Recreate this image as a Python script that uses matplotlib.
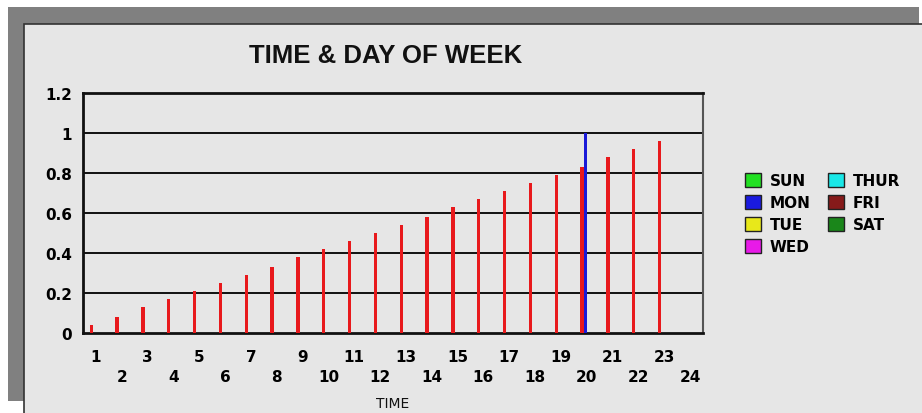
from matplotlib import pyplot as plt
from matplotlib.patches import Rectangle, Patch
import numpy as np

# chart data
hours = list(range(1, 25))
red_hours = list(range(1, 24))
red_values = [0.04, 0.08, 0.13, 0.17, 0.21, 0.25, 0.29, 0.33, 0.38, 0.42, 0.46, 0.50,
              0.54, 0.58, 0.63, 0.67, 0.71, 0.75, 0.79, 0.83, 0.88, 0.92, 0.96]
blue_hours = [20]
blue_values = [1.0]
y_ticks = [0, 0.2, 0.4, 0.6, 0.8, 1, 1.2]
y_labels = ["0", "0.2", "0.4", "0.6", "0.8", "1", "1.2"]
days = ["SUN", "MON", "TUE", "WED", "THUR", "FRI", "SAT"]
day_colors = ["#22e022", "#1a1ae0", "#e8e81a", "#e81ae8", "#1ae8e8", "#861a1a", "#1a861a"]

W, H = 922, 414
fig = plt.figure(figsize=(W / 100, H / 100), dpi=100)
fig.patch.set_facecolor("white")

def px(x, y):
    # pixel from top-left -> figure fraction
    return x / W, 1 - y / H

# shadow frame and light panel
x0, y0 = px(8, 402)
fig.patches.append(Rectangle((x0, y0), (919 - 8) / W, (402 - 8) / H,
                             transform=fig.transFigure, facecolor="#808080", edgecolor="none", zorder=0))
x0, y0 = px(24, 430)
fig.patches.append(Rectangle((x0, y0), (W - 24) / W + 0.05, (430 - 25) / H,
                             transform=fig.transFigure, facecolor="#e6e6e6", edgecolor="#333333",
                             linewidth=1.2, zorder=1))

ax = fig.add_axes([83 / W, 1 - 334 / H, (703 - 83) / W, (334 - 94) / H])
ax.set_facecolor("#e6e6e6")
ax.set_zorder(2)

ax.bar(np.array(red_hours) - 0.18, red_values, width=0.13, color="#e8191c", zorder=3)
ax.bar(np.array(blue_hours) - 0.06, blue_values, width=0.13, color="#1a1ad8", zorder=4)

ax.set_xlim(0.5, 24.5)
ax.set_ylim(0, 1.2)

ax.set_yticks(y_ticks)
ax.set_yticklabels(y_labels, fontsize=11, fontweight="bold", family="DejaVu Sans")
ax.tick_params(axis="y", length=0, pad=8)
for y in y_ticks[1:-1]:
    ax.axhline(y, color="#111111", linewidth=1.4, zorder=2)

odd = [h for h in hours if h % 2 == 1]
even = [h for h in hours if h % 2 == 0]
ax.set_xticks(odd)
ax.set_xticklabels([str(h) for h in odd], fontsize=11, fontweight="bold", family="DejaVu Sans")
ax.set_xticks(even, minor=True)
ax.set_xticklabels([str(h) for h in even], minor=True, fontsize=11, fontweight="bold",
                   family="DejaVu Sans")
ax.tick_params(axis="x", which="major", length=0, pad=11.5)
ax.tick_params(axis="x", which="minor", length=0, pad=26)

for side in ["left", "top", "bottom"]:
    ax.spines[side].set_color("#111111")
    ax.spines[side].set_linewidth(2)
ax.spines["right"].set_color("#555555")
ax.spines["right"].set_linewidth(1.5)

fig.text(*px(386, 56), "TIME & DAY OF WEEK", ha="center", va="center",
         fontsize=18.5, fontweight="bold", family="Liberation Sans", color="#111111", zorder=5)
fig.text(*px(393, 404), "TIME", ha="center", va="center",
         fontsize=10, family="DejaVu Sans", color="#111111", zorder=5)

handles = [Patch(facecolor=c, edgecolor="#222222", linewidth=1) for c in day_colors]
leg = fig.legend(handles, days, loc="upper left", bbox_to_anchor=px(737, 166), ncol=2,
                 frameon=False, borderpad=0, handlelength=1.05, handleheight=1.05,
                 handletextpad=0.6, columnspacing=1.1, labelspacing=0.45,
                 prop={"size": 11, "weight": "bold", "family": "DejaVu Sans"})
leg.set_zorder(5)

fig.savefig("out.png", dpi=100, facecolor=fig.get_facecolor())
